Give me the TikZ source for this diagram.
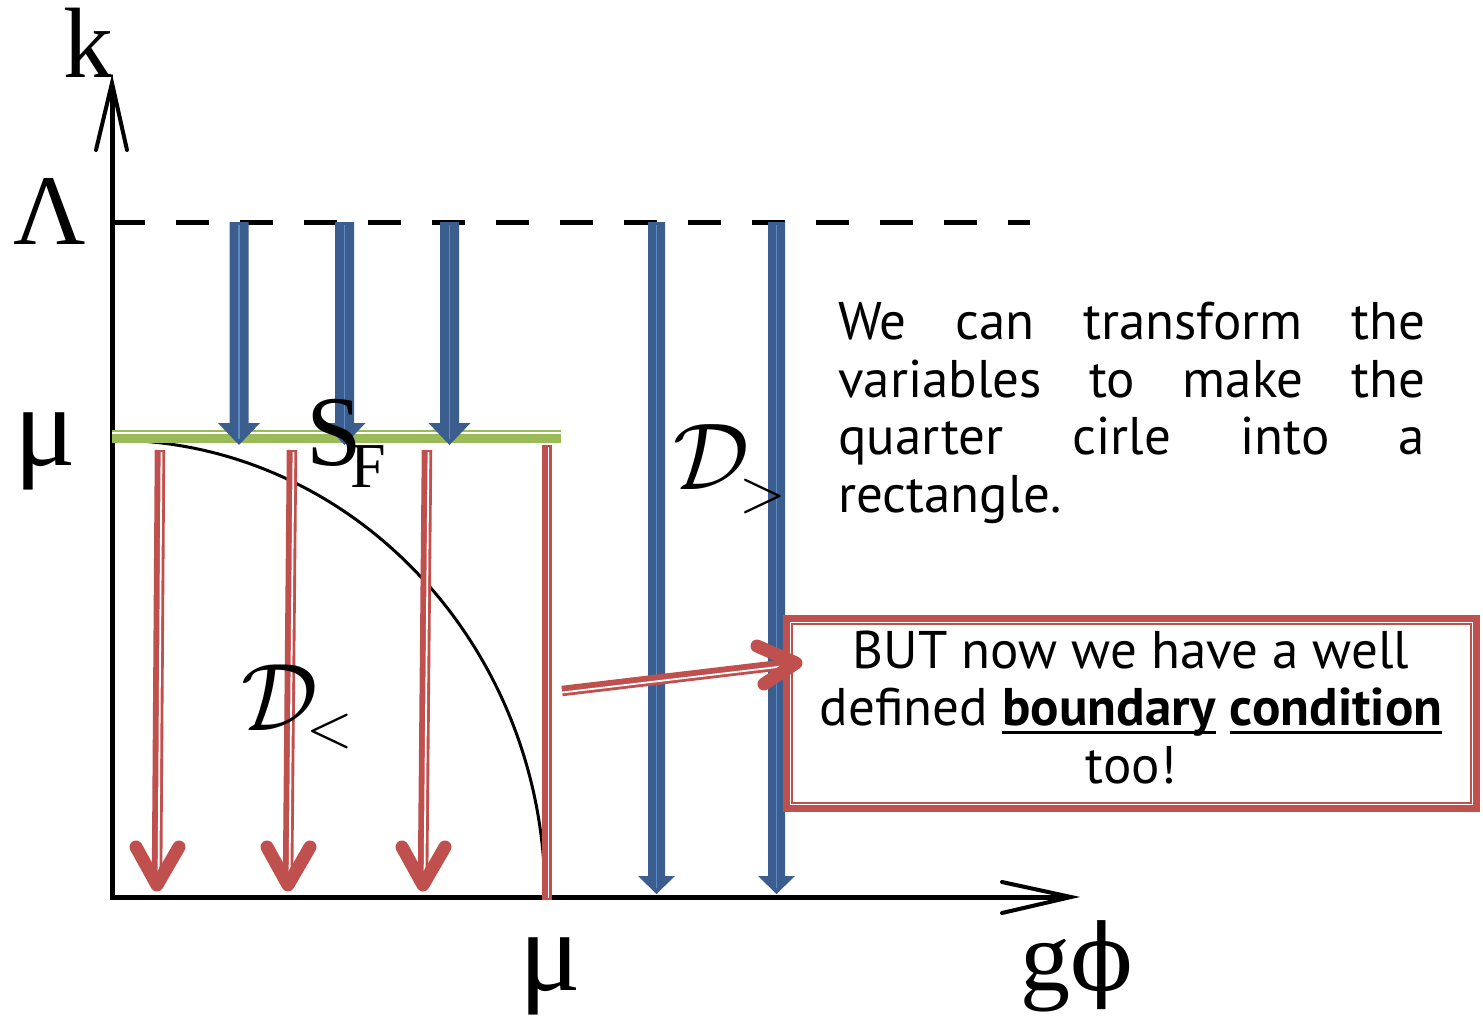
\documentclass[tikz,border=0pt]{standalone}
\usepackage{fontspec}
\setmainfont{PT Sans}
\newfontfamily\tms{Liberation Serif}
\newfontfamily\dvs{DejaVu Serif}
\definecolor{bluedk}{HTML}{3B5E8E}
\definecolor{bluelt}{HTML}{5B8AC6}
\definecolor{redc}{HTML}{C0504D}
\definecolor{greenc}{HTML}{9BBB59}
\newcommand\myul[1]{\setbox0\hbox{#1}\rlap{\rule[-9pt]{\wd0}{3pt}}\box0\relax}
\newcommand\bluearr[6]{% x, ytop, ybase, ytip, halfshaft, halfhead
  \fill[bluedk] (#1-#5,#2) -- (#1+#5,#2) -- (#1+#5,#3) -- (#1+#6,#3) -- (#1,#4) -- (#1-#6,#3) -- (#1-#5,#3) -- cycle;
  \draw[bluelt, line width=1.6] (#1,#2+3) -- (#1,#4-6);
}
\begin{document}
\begin{tikzpicture}[x=1pt,y=-1pt,
  axis/.style={line width=5, line join=miter},
  tipline/.style={line width=4, line cap=round, line join=miter},
  redshaft/.style={redc, line width=10.5},
  redhead/.style={redc, line width=13, line cap=round, line join=round},
  whiteline/.style={white, line width=1.8},
  serif/.style={font=\tms\fontsize{100}{100}\selectfont, inner sep=0},
  serifbig/.style={font=\tms\fontsize{115}{115}\selectfont, inner sep=0},
  serifsmall/.style={font=\tms\fontsize{64}{64}\selectfont, inner sep=0},
  sans/.style={font=\fontsize{53}{58}\selectfont, inner sep=0}]

\useasboundingbox (0,0) rectangle (1483,1015);
\fill[white] (0,0) rectangle (1483,1015);

% dashed cut-off line
\draw[line width=5, dash pattern=on 33 off 31] (112,222) -- (1030,222);

% quarter ellipse
\coordinate (qtop) at (112,440);
\coordinate (qbot) at (545,897);
\draw[line width=3] (qtop) .. controls (351,440) and (545,645) .. (qbot);

% axes
\coordinate (ytip) at (112,83);
\coordinate (orig) at (112,897);
\coordinate (xtip) at (1071,897);
\draw[axis] (112,86) -- (orig) -- (1068,897);
\draw[tipline] (96,150) -- (ytip) -- (127,150);
\draw[tipline] (1002,882) -- (xtip) -- (1002,913);

% Fermi surface line
\draw[greenc, line width=13] (112,436.5) -- (561,436.5);
\draw[white, line width=2] (112,433.3) -- (561,433.3);

% blue arrows
\bluearr{239}{222}{423}{445}{9.5}{21}
\bluearr{344.5}{222}{423}{445}{9.5}{21}
\bluearr{449.5}{222}{423}{445}{9.5}{21}
\bluearr{656.5}{222}{876}{894}{8.5}{18.5}
\bluearr{776.5}{222}{876}{894}{8.5}{18.5}

% red arrows
\draw[redshaft] (160,450) -- (157,884);
\draw[whiteline] (161.5,452) -- (158.5,880);
\draw[redhead] (136,847) -- (157,885) -- (179,847);
\draw[redshaft] (292,450) -- (288,884);
\draw[whiteline] (293.5,452) -- (289.5,880);
\draw[redhead] (267,847) -- (288,885) -- (310,847);
\draw[redshaft] (427,450) -- (423,884);
\draw[whiteline] (428.5,452) -- (424.5,880);
\draw[redhead] (402,847) -- (423,885) -- (445,847);
\draw[redshaft] (547,445) -- (547,900);
\draw[whiteline] (548.5,447) -- (548.5,898);

% callout box
\node[draw=redc, fill=white, line width=7, minimum width=690, minimum height=190, inner sep=0] (box) at (1131.5,713.5) {};
\draw[redc, line width=2.2] ([shift={(9,9)}]box.north west) rectangle ([shift={(-9,-9)}]box.south east);
\node[sans, anchor=base] (bt1) at (1131,668) {BUT now we have a well};
\node[sans, anchor=base] (bt2) at (1131,725) {defined \myul{\textbf{boundary}} \myul{\textbf{condition}}};
\node[sans, anchor=base] (bt3) at (1131,783) {too!};

% callout arrow
\coordinate (cstart) at (562,691);
\coordinate (cend) at (790,664);
\draw[redshaft] (cstart) -- (cend);
\draw[whiteline] (562,692.5) -- (786,666);
\draw[redhead] (757,646) -- (796,663) -- (764,684);

% paragraph
\node[sans, anchor=base west] (p1) at (838,339) {\makebox[587pt][s]{We can transform the}};
\node[sans, anchor=base west] (p2) at (838,397) {\makebox[587pt][s]{variables to make the}};
\node[sans, anchor=base west] (p3) at (838,454) {\makebox[587pt][s]{quarter cirle into a}};
\node[sans, anchor=base west] (p4) at (838,512) {rectangle.};

% axis labels
\node[serif, anchor=base] (k) at (88,77) {k};
\node[serif, anchor=base] (Lam) at (50,244) {Λ};
\node[serifbig, anchor=base] (mu1) at (45,465) {μ};
\node[serifbig, anchor=base] (mu2) at (550,990) {μ};
\node[serif, anchor=base] (gphi) at (1077,990) {g{\dvs\fontsize{92}{92}\selectfont ϕ}};
\node[serif, anchor=base west] (S) at (306,465) {S};
\node[serifsmall, anchor=base west] (F) at (350,487) {F};

% domain labels
\node[scale=9.5, inner sep=0, anchor=base west] (Dg) at (672,489) {$\mathcal{D}$};
\node[scale=6, inner sep=0, anchor=base west] (gt) at (738,511) {$>$};
\node[scale=9.6, inner sep=0, anchor=base west] (Dl) at (240,730) {$\mathcal{D}$};
\node[scale=6, inner sep=0, anchor=base west] (lt) at (305,746) {$<$};
\end{tikzpicture}
\end{document}
